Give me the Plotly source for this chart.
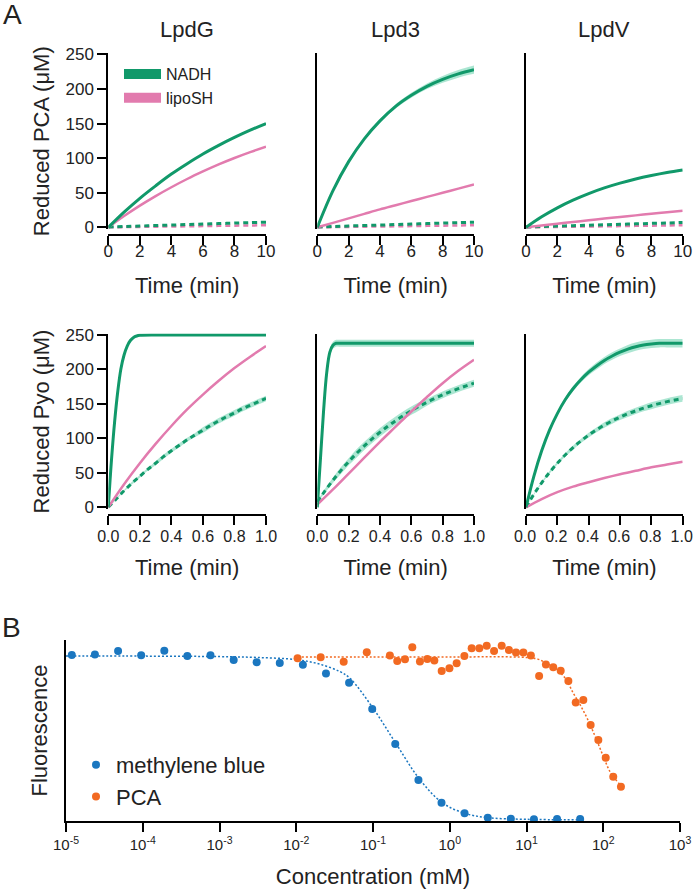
import plotly.graph_objects as go

W, H = 693, 892
FONT = "Liberation Sans, Arial, sans-serif"
GREEN = "#11996a"
PINK = "#e27bae"
BAND = "rgba(72,200,155,0.45)"
BLUE = "#1b77c0"
ORANGE = "#f26a22"

# ---------------- Panel A data ----------------
columns = ["LpdG", "Lpd3", "LpdV"]
legend_names = ["NADH", "lipoSH"]

# Reduced PCA (µM) vs time (min)
t_pca = [0, 1, 2, 3, 4, 5, 6, 7, 8, 9, 10]
pca_lpdG_nadh = [0, 22, 42, 60, 77, 92, 106, 118.5, 130, 140.5, 150]
pca_lpdG_lipo = [0, 16.3, 31.4, 45.2, 58, 69.9, 80.8, 91, 100.3, 108.8, 116.7]
pca_lpdG_nadh_ctrl = [0.5, 1.2, 1.9, 2.6, 3.3, 4.0, 4.7, 5.4, 6.1, 6.8, 7.5]
pca_lpdG_lipo_ctrl = [0, 0.3, 0.6, 0.9, 1.2, 1.5, 1.8, 2.1, 2.4, 2.7, 3.0]

pca_lpd3_nadh = [0, 53, 95, 128, 154, 175, 191, 204, 214, 222, 228]
pca_lpd3_nadh_sd = [0, 0.5, 1, 1.5, 2, 3, 3.5, 4, 5, 5.5, 6]
pca_lpd3_lipo = [0, 6.5, 13, 19.5, 26, 32, 38, 44, 50, 56, 62]
pca_lpd3_nadh_ctrl = [0.5, 1.2, 1.9, 2.6, 3.3, 4.0, 4.7, 5.4, 6.1, 6.8, 7.5]
pca_lpd3_lipo_ctrl = [0, 0.3, 0.6, 0.9, 1.2, 1.5, 1.8, 2.1, 2.4, 2.7, 3.0]

pca_lpdV_nadh = [0, 15.2, 28.2, 39.3, 48.8, 57, 63.9, 69.9, 74.9, 79.3, 83]
pca_lpdV_lipo = [0, 2.7, 5.2, 7.7, 10.2, 12.6, 15, 17.3, 19.6, 21.8, 24]
pca_lpdV_nadh_ctrl = [0.5, 1.1, 1.8, 2.4, 3.1, 3.7, 4.4, 5.0, 5.7, 6.3, 7.0]
pca_lpdV_lipo_ctrl = [0, 0.3, 0.6, 0.9, 1.2, 1.5, 1.8, 2.1, 2.4, 2.7, 3.0]

# Reduced Pyo (µM) vs time (min)
t_pyo_fast = [0, 0.02, 0.04, 0.06, 0.08, 0.10, 0.12, 0.14, 0.16, 0.18, 0.20,
              0.3, 0.4, 0.5, 0.6, 0.7, 0.8, 0.9, 1.0]
t_pyo = [0, 0.05, 0.10, 0.15, 0.20, 0.25, 0.30, 0.35, 0.40, 0.45, 0.50,
         0.55, 0.60, 0.65, 0.70, 0.75, 0.80, 0.85, 0.90, 0.95, 1.00]
t_pyo_coarse = [0, 0.1, 0.2, 0.3, 0.4, 0.5, 0.6, 0.7, 0.8, 0.9, 1.0]

pyo_lpdG_nadh = [0, 68, 124, 168, 201, 221, 234, 242, 246.5, 248.5, 249.5,
                 250, 250, 250, 250, 250, 250, 250, 250]
pyo_lpdG_lipo = [0, 33.5, 64, 92, 118, 142, 163.5, 183.5, 202, 218.5, 234]
pyo_lpdG_ctrl = [0, 12, 24, 35, 45, 55, 64, 73.5, 82, 90, 98, 105, 112, 119,
                 125.5, 131.5, 137, 143, 148, 153, 158]
pyo_lpdG_ctrl_sd = [0, 1, 1, 2, 2, 2, 3, 3, 3, 3, 3, 3, 4, 4, 4, 4, 4, 4, 4, 4, 4]

pyo_lpd3_nadh = [0, 70, 140, 195, 225, 235, 238, 238, 238, 238, 238,
                 238, 238, 238, 238, 238, 238, 238, 238]
pyo_lpd3_nadh_sd = [0, 3, 4, 5, 5, 5, 5, 5, 5, 5, 5, 5, 5, 5, 5, 5, 5, 5, 5]
pyo_lpd3_lipo = [4, 26, 49, 72, 95, 117, 139, 160, 180, 198, 214]
pyo_lpd3_ctrl = [8, 24.3, 39.3, 53.3, 66.2, 78.1, 89.2, 99.4, 108.9, 117.6, 125.7,
                 133.2, 140.2, 146.6, 152.5, 158, 163.1, 167.8, 172.2, 176.2, 180]
pyo_lpd3_ctrl_sd = [1, 3, 4, 5, 5, 6, 6, 6, 6, 6, 6, 6, 6, 6, 5, 5, 5, 5, 5, 5, 5]

pyo_lpdV_nadh = [0, 45, 82, 112, 136, 156, 172, 185, 196, 205, 213, 219.5, 225,
                 229.5, 233, 235.5, 237, 238, 238, 238, 238]
pyo_lpdV_nadh_sd = [0, 1, 1.5, 2, 2.5, 3, 3.5, 4, 4.5, 5, 5, 5.5, 5.5, 6, 6, 6, 6, 6, 6, 6, 6]
pyo_lpdV_lipo = [0, 12, 22, 30, 36.5, 42.5, 48, 53, 58, 62, 66]
pyo_lpdV_ctrl = [0, 18.8, 35.6, 50.6, 64, 76, 86.7, 96.2, 104.8, 112.4, 119.3,
                 125.4, 130.8, 135.7, 140, 143.9, 147.4, 150.5, 153.3, 155.8, 158]
pyo_lpdV_ctrl_sd = [0, 1, 1.5, 2, 2, 2.5, 3, 3, 3.5, 3.5, 4, 4, 4, 4.5, 4.5, 4.5,
                    5, 5, 5, 5, 5]

pca_ticks = [0, 2, 4, 6, 8, 10]
pyo_ticks = [0, 0.2, 0.4, 0.6, 0.8, 1.0]
y_ticks = [0, 50, 100, 150, 200, 250]

# ---------------- Panel B data ----------------
mb_conc = [1.19e-5, 2.38e-5, 4.77e-5, 9.54e-5, 1.91e-4, 3.81e-4, 7.63e-4,
           1.53e-3, 3.05e-3, 6.10e-3, 1.22e-2, 2.44e-2, 4.88e-2, 9.77e-2,
           0.195, 0.391, 0.781, 1.56, 3.13, 6.25, 12.5, 25, 50]
mb_fluor = [1.000, 1.002, 1.024, 0.998, 1.026, 0.994, 0.998, 0.970, 0.956,
            0.952, 0.941, 0.889, 0.833, 0.675, 0.464, 0.247, 0.110, 0.046,
            0.020, 0.014, 0.011, 0.012, 0.012]
pca_conc = [0.0104, 0.0208, 0.0415, 0.083, 0.166, 0.207, 0.261, 0.325, 0.409,
            0.51, 0.63, 0.785, 0.99, 1.23, 1.55, 1.93, 2.43, 3.03, 3.78, 4.75,
            5.9, 7.3, 9.1, 11.4, 14.6, 17.9, 22.3, 27.9, 35.1, 43.8, 55, 68.5,
            86.3, 107.7, 135, 170]
pca_fluor = [0.980, 0.986, 0.959, 1.016, 0.996, 0.964, 0.974, 1.046, 0.960,
             0.976, 0.966, 0.904, 0.920, 0.950, 0.994, 1.040, 1.040, 1.056,
             1.024, 1.056, 1.030, 1.014, 1.014, 0.996, 0.873, 0.942, 0.926,
             0.905, 0.843, 0.713, 0.729, 0.578, 0.488, 0.381, 0.267, 0.207]
mb_fit_conc = [1e-5, 1e-4, 1e-3, 3e-3, 1e-2, 2e-2, 3.7e-2, 5e-2, 0.1, 0.2,
               0.4, 0.8, 1.6, 3.2, 10, 50]
mb_fit_fluor = [0.993, 0.993, 0.99, 0.985, 0.972, 0.945, 0.90, 0.86, 0.68,
                0.465, 0.255, 0.11, 0.045, 0.02, 0.01, 0.008]
pca_fit_conc = [0.0104, 0.1, 1, 10, 14, 18.3, 25, 32, 40.7, 50, 63, 80, 100,
                125, 165]
pca_fit_fluor = [0.988, 0.988, 0.988, 0.985, 0.975, 0.95, 0.91, 0.86, 0.77,
                 0.70, 0.61, 0.50, 0.39, 0.29, 0.22]
b_ticks = [1e-5, 1e-4, 1e-3, 1e-2, 1e-1, 1, 10, 100, 1000]
b_ticktext = ["10<sup>-5</sup>", "10<sup>-4</sup>", "10<sup>-3</sup>",
              "10<sup>-2</sup>", "10<sup>-1</sup>", "10<sup>0</sup>",
              "10<sup>1</sup>", "10<sup>2</sup>", "10<sup>3</sup>"]


def fx(px):
    return px / W


def fy(py):
    return 1 - py / H


fig = go.Figure()


def add_curve(ax, t, v, color, width, dash="solid", sd=None):
    xa, ya = ("x" + ax, "y" + ax)
    if sd is not None:
        up = [a + b for a, b in zip(v, sd)]
        lo = [a - b for a, b in zip(v, sd)]
        fig.add_trace(go.Scatter(x=t, y=up, mode="lines", line=dict(width=0, shape="spline"),
                                 hoverinfo="skip", showlegend=False, xaxis=xa, yaxis=ya))
        fig.add_trace(go.Scatter(x=t, y=lo, mode="lines", line=dict(width=0, shape="spline"),
                                 fill="tonexty", fillcolor=BAND, hoverinfo="skip",
                                 showlegend=False, xaxis=xa, yaxis=ya))
    fig.add_trace(go.Scatter(x=t, y=v, mode="lines",
                             line=dict(color=color, width=width, dash=dash, shape="spline"),
                             showlegend=False, xaxis=xa, yaxis=ya))


DASH = "5px,4px"
# top row (PCA)
add_curve("", t_pca, pca_lpdG_lipo_ctrl, PINK, 2.5, DASH)
add_curve("", t_pca, pca_lpdG_nadh_ctrl, GREEN, 3, DASH)
add_curve("", t_pca, pca_lpdG_lipo, PINK, 2.5)
add_curve("", t_pca, pca_lpdG_nadh, GREEN, 3)
add_curve("2", t_pca, pca_lpd3_lipo_ctrl, PINK, 2.5, DASH)
add_curve("2", t_pca, pca_lpd3_nadh_ctrl, GREEN, 3, DASH)
add_curve("2", t_pca, pca_lpd3_lipo, PINK, 2.5)
add_curve("2", t_pca, pca_lpd3_nadh, GREEN, 3, sd=pca_lpd3_nadh_sd)
add_curve("3", t_pca, pca_lpdV_lipo_ctrl, PINK, 2.5, DASH)
add_curve("3", t_pca, pca_lpdV_nadh_ctrl, GREEN, 3, DASH)
add_curve("3", t_pca, pca_lpdV_lipo, PINK, 2.5)
add_curve("3", t_pca, pca_lpdV_nadh, GREEN, 3)
# bottom row (Pyo)
add_curve("4", t_pyo, pyo_lpdG_ctrl, GREEN, 3, DASH, sd=pyo_lpdG_ctrl_sd)
add_curve("4", t_pyo_coarse, pyo_lpdG_lipo, PINK, 2.5)
add_curve("4", t_pyo_fast, pyo_lpdG_nadh, GREEN, 3)
add_curve("5", t_pyo, pyo_lpd3_ctrl, GREEN, 3, DASH, sd=pyo_lpd3_ctrl_sd)
add_curve("5", t_pyo_coarse, pyo_lpd3_lipo, PINK, 2.5)
add_curve("5", t_pyo_fast, pyo_lpd3_nadh, GREEN, 3, sd=pyo_lpd3_nadh_sd)
add_curve("6", t_pyo, pyo_lpdV_ctrl, GREEN, 3, DASH, sd=pyo_lpdV_ctrl_sd)
add_curve("6", t_pyo_coarse, pyo_lpdV_lipo, PINK, 2.5)
add_curve("6", t_pyo, pyo_lpdV_nadh, GREEN, 3, sd=pyo_lpdV_nadh_sd)

# legend entries for panel A
for name, col in zip(legend_names, [GREEN, PINK]):
    fig.add_trace(go.Scatter(x=[None], y=[None], mode="lines", name=name,
                             line=dict(color=col, width=12), legend="legend",
                             xaxis="x", yaxis="y"))

# panel B
fig.add_trace(go.Scatter(x=mb_fit_conc, y=mb_fit_fluor, mode="lines",
                         line=dict(color=BLUE, width=1.5, dash="2px,2px", shape="spline"),
                         showlegend=False, xaxis="x7", yaxis="y7"))
fig.add_trace(go.Scatter(x=pca_fit_conc, y=pca_fit_fluor, mode="lines",
                         line=dict(color=ORANGE, width=1.5, dash="2px,2px", shape="spline"),
                         showlegend=False, xaxis="x7", yaxis="y7"))
fig.add_trace(go.Scatter(x=mb_conc, y=mb_fluor, mode="markers", name="methylene blue",
                         marker=dict(color=BLUE, size=8), legend="legend2",
                         xaxis="x7", yaxis="y7"))
fig.add_trace(go.Scatter(x=pca_conc, y=pca_fluor, mode="markers", name="PCA",
                         marker=dict(color=ORANGE, size=8), legend="legend2",
                         xaxis="x7", yaxis="y7"))

# ---------------- layout ----------------
col_px = [(108.3, 266.0), (317.3, 474.0), (526.0, 682.7)]
rows = [  # (y-domain bottom px, top px, x-axis line px, label standoff, title standoff, font)
    (229.4, 53.1, 234.5, -8, 17, 17),
    (509.4, 333.6, 515.0, -2, 14, 16),
]
axis_common = dict(showgrid=False, zeroline=False, showline=True, linecolor="black",
                   linewidth=2, tickcolor="black", tickwidth=2, ticklen=9, automargin=False,
                   tickfont=dict(size=17, color="#222"), ticklabeloverflow="allow")
layout = {}
idx = 0
for r, (yb, yt, xl, lso, tso, tfs) in enumerate(rows):
    for c, (xl0, xr0) in enumerate(col_px):
        idx += 1
        s = "" if idx == 1 else str(idx)
        xa = dict(axis_common, domain=[fx(xl0), fx(xr0)], anchor="free", position=fy(xl),
                  range=[0, 10] if r == 0 else [0, 1], ticks="outside",
                  tickvals=pca_ticks if r == 0 else pyo_ticks,
                  tickformat="d" if r == 0 else ".1f", ticklabelstandoff=lso,
                  tickfont=dict(size=tfs, color="#222"),
                  title=dict(text="Time (min)", font=dict(size=22, color="#222"), standoff=tso))
        if r == 1 and c == 2:
            xa["ticklabelshift"] = -1
        ya = dict(axis_common, domain=[fy(yb), fy(yt)], anchor="x" + s, range=[-3, 252])
        if c == 0:
            ya.update(ticks="outside", tickvals=y_ticks,
                      title=dict(text="Reduced PCA (μM)" if r == 0 else "Reduced Pyo (μM)",
                                 font=dict(size=22, color="#222"), standoff=10))
        else:
            ya.update(ticks="", showticklabels=False)
        layout["xaxis" + s] = xa
        layout["yaxis" + s] = ya

layout["xaxis7"] = dict(axis_common, type="log", domain=[fx(66), fx(680)], anchor="y7",
                        range=[-5, 3], ticks="outside", tickvals=b_ticks, ticktext=b_ticktext,
                        tickfont=dict(size=15, color="#222"),
                        title=dict(text="Concentration (mM)", font=dict(size=22, color="#222"),
                                   standoff=17))
layout["yaxis7"] = dict(axis_common, domain=[fy(821), fy(640)], anchor="x7", range=[0, 1.09],
                        ticks="", showticklabels=False,
                        title=dict(text="Fluorescence", font=dict(size=22, color="#222"),
                                   standoff=10))

annotations = []
for name, (a, b) in zip(columns, col_px):
    annotations.append(dict(text=name, x=fx((a + b) / 2), y=fy(29), xref="paper", yref="paper",
                            showarrow=False, font=dict(size=22, color="#222"),
                            xanchor="center", yanchor="middle"))
annotations.append(dict(text="A", x=fx(1), y=fy(15), xref="paper", yref="paper", showarrow=False,
                        font=dict(size=28, color="#222"), xanchor="left", yanchor="middle"))
annotations.append(dict(text="B", x=fx(0), y=fy(627), xref="paper", yref="paper", showarrow=False,
                        font=dict(size=28, color="#222"), xanchor="left", yanchor="middle"))

fig.update_layout(
    width=W, height=H, margin=dict(l=0, r=0, t=0, b=0, autoexpand=False),
    paper_bgcolor="white", plot_bgcolor="white",
    font=dict(family=FONT, color="#222"),
    annotations=annotations,
    legend=dict(x=fx(119), y=fy(57), xanchor="left", yanchor="top", bgcolor="rgba(0,0,0,0)",
                font=dict(size=16, color="#222"), itemwidth=37, tracegroupgap=0,
                traceorder="normal"),
    legend2=dict(x=fx(76), y=fy(744), xanchor="left", yanchor="top", bgcolor="rgba(0,0,0,0)",
                 font=dict(size=22, color="#222"), itemwidth=30, traceorder="normal"),
    **layout,
)

fig.write_html("out.html", config={"displayModeBar": False},
               post_script="document.body.style.margin='0px';")
